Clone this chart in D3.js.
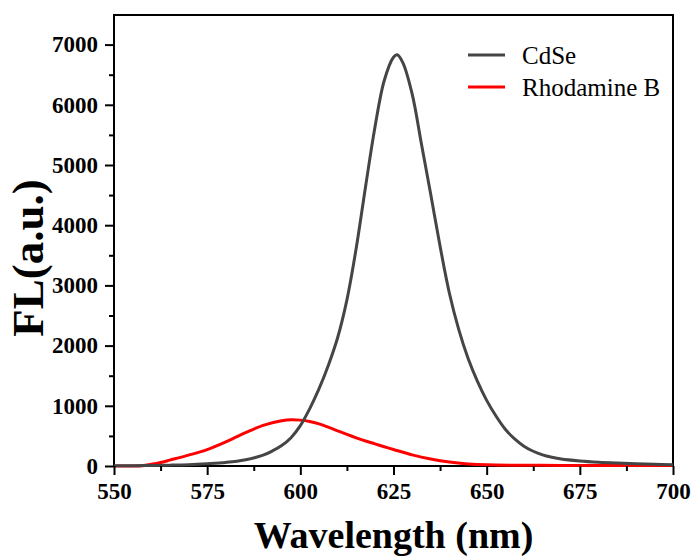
<!DOCTYPE html>
<html>
<head>
<meta charset="utf-8">
<script src="https://d3js.org/d3.v7.min.js"></script>
<style>
  html, body { margin: 0; padding: 0; background: #fff; }
  svg { display: block; }
</style>
</head>
<body>
<svg id="chart" width="691" height="558"></svg>
<script>
// ---- data ----
const cdseWavelength = [550, 555, 560, 565, 570, 575, 580, 585, 590, 592.5, 595, 597.5, 600, 602.5, 605, 607.5, 610, 612.5, 615, 617.5, 620, 622.5, 625, 626, 627.5, 630, 632.5, 635, 637.5, 640, 642.5, 645, 647.5, 650, 652.5, 655, 657.5, 660, 662.5, 665, 667.5, 670, 675, 680, 685, 690, 695, 700];
const cdseValues = [5, 6, 9, 14, 22, 38, 60, 100, 180, 250, 340, 470, 670, 950, 1280, 1670, 2130, 2760, 3620, 4640, 5620, 6400, 6790, 6830, 6700, 6180, 5350, 4510, 3650, 2870, 2270, 1790, 1410, 1090, 830, 610, 450, 330, 245, 185, 145, 115, 83, 62, 48, 37, 28, 22];

const rhodWavelength = [550, 555, 557.5, 560, 562.5, 565, 570, 575, 580, 585, 590, 595, 597.5, 600, 602.5, 605, 607.5, 610, 612.5, 615, 617.5, 620, 622.5, 625, 630, 635, 640, 645, 650, 660, 670, 680, 690, 700];
const rhodValues = [0, 0, 5, 28, 58, 98, 180, 272, 400, 545, 675, 750, 768, 762, 740, 700, 645, 585, 525, 468, 415, 368, 320, 275, 185, 115, 65, 35, 20, 12, 10, 10, 10, 10];

const xTicks = [550, 575, 600, 625, 650, 675, 700];
const yTicks = [0, 1000, 2000, 3000, 4000, 5000, 6000, 7000];
const seriesNames = ["CdSe", "Rhodamine B"];
const seriesColors = ["#454545", "#ff0000"];

// ---- layout ----
const svg = d3.select("#chart");
const mLeft = 114, mRight = 673, mTop = 15, mBottom = 466;
const x = d3.scaleLinear().domain([550, 700]).range([mLeft, mRight]);
const y = d3.scaleLinear().domain([0, 7000]).range([mBottom, mBottom - 421.4]);

const serif = "'Liberation Serif', 'Times New Roman', serif";

// frame
svg.append("rect")
  .attr("x", mLeft).attr("y", mTop)
  .attr("width", mRight - mLeft).attr("height", mBottom - mTop)
  .attr("fill", "none").attr("stroke", "#000").attr("stroke-width", 2);

// lines
const line = d3.line().x(d => x(d[0])).y(d => y(d[1])).curve(d3.curveCatmullRom.alpha(0.5));
const cdse = cdseWavelength.map((w, i) => [w, cdseValues[i]]);
const rhod = rhodWavelength.map((w, i) => [w, rhodValues[i]]);

const plot = svg.append("g");
plot.append("path").datum(rhod).attr("d", line)
  .attr("fill", "none").attr("stroke", seriesColors[1]).attr("stroke-width", 3);
plot.append("path").datum(cdse).attr("d", line)
  .attr("fill", "none").attr("stroke", seriesColors[0]).attr("stroke-width", 3);

// axes
const xAxis = d3.axisBottom(x).tickValues(xTicks).tickSize(9).tickPadding(8).tickFormat(d3.format("d"));
const xMinor = d3.axisBottom(x).tickValues(d3.range(562.5, 700, 25)).tickSize(5).tickFormat("");
const yAxis = d3.axisLeft(y).tickValues(yTicks).tickSize(9).tickPadding(7).tickFormat(d3.format("d"));
const yMinor = d3.axisLeft(y).tickValues(d3.range(500, 7000, 1000)).tickSize(5).tickFormat("");

function styleAxis(g) {
  g.select(".domain").remove();
  g.selectAll(".tick line").attr("stroke", "#000").attr("stroke-width", 2);
  g.selectAll(".tick text")
    .attr("fill", "#000")
    .style("font-family", serif)
    .style("font-weight", "bold")
    .style("font-size", "23px");
}

svg.append("g").attr("transform", `translate(0,${mBottom})`).call(xAxis).call(styleAxis);
svg.append("g").attr("transform", `translate(0,${mBottom})`).call(xMinor).call(styleAxis);
svg.append("g").attr("transform", `translate(${mLeft},0)`).call(yAxis).call(styleAxis);
svg.append("g").attr("transform", `translate(${mLeft},0)`).call(yMinor).call(styleAxis);

// axis titles
svg.append("text")
  .attr("x", (mLeft + mRight) / 2).attr("y", 548)
  .attr("text-anchor", "middle")
  .style("font-family", serif).style("font-weight", "bold").style("font-size", "38px")
  .text("Wavelength (nm)");

svg.append("text")
  .attr("transform", `translate(43,258) rotate(-90)`)
  .attr("text-anchor", "middle")
  .style("font-family", serif).style("font-weight", "bold").style("font-size", "45px")
  .text("FL(a.u.)");

// legend
const legend = svg.append("g");
const legendY = [55, 87];
seriesNames.forEach((name, i) => {
  legend.append("line")
    .attr("x1", 468).attr("x2", 505)
    .attr("y1", legendY[i]).attr("y2", legendY[i])
    .attr("stroke", seriesColors[i]).attr("stroke-width", 3);
  legend.append("text")
    .attr("x", 522).attr("y", legendY[i] + 9)
    .style("font-family", serif).style("font-size", "25px")
    .attr("fill", "#000")
    .text(name);
});
</script>
</body>
</html>
